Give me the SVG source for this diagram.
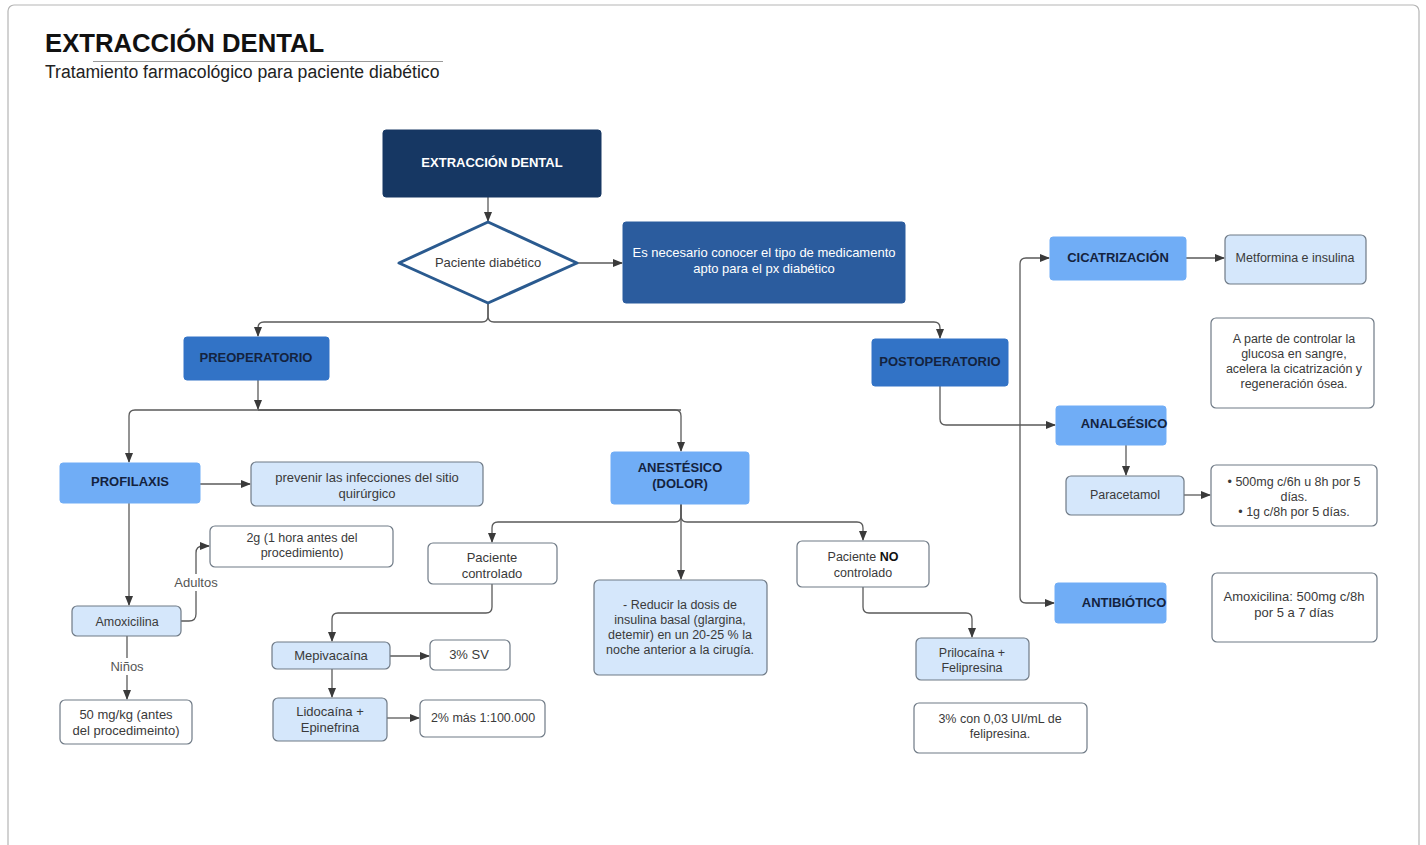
<svg xmlns="http://www.w3.org/2000/svg" width="1426" height="845" viewBox="0 0 1426 845">
<defs>
<marker id="ah" markerWidth="10" markerHeight="8" refX="9" refY="4" orient="auto" markerUnits="userSpaceOnUse">
<path d="M0,0 L10,4 L0,8 Z" fill="#3a3a3a"/>
</marker>
<style>
text{font-family:"Liberation Sans",Arial,sans-serif;}
.c{fill:none;stroke:#5a5a5a;stroke-width:1.3;marker-end:url(#ah);}
.t{font-size:12.5px;fill:#3a3a3a;text-anchor:middle;}
.m{font-size:13px;}
.tw{font-size:13px;fill:#ffffff;text-anchor:middle;}
.b{font-size:13px;font-weight:bold;fill:#14233f;text-anchor:middle;}
.dark{fill:#163763;stroke:#163763;}
.mid{fill:#2b5c9e;stroke:#2b5c9e;}
.pre{fill:#3273c6;stroke:#3273c6;}
.lb{fill:#70adf6;stroke:#70adf6;}
.pale{fill:#d5e7fb;stroke:#6f7a86;stroke-width:1.2;}
.wh{fill:#ffffff;stroke:#6f7a86;stroke-width:1.2;}
.lbl{font-size:13px;fill:#555;text-anchor:middle;}
</style>
</defs>
<rect x="0" y="0" width="1426" height="845" fill="#ffffff"/>
<rect x="8" y="5" width="1411" height="860" rx="6" fill="#ffffff" stroke="#b5b5b5" stroke-width="1.2"/>
<text x="45" y="52" font-size="25.7" font-weight="bold" fill="#111">EXTRACCIÓN DENTAL</text>
<line x1="93" y1="61.5" x2="443" y2="61.5" stroke="#999" stroke-width="1"/>
<text x="45" y="78" font-size="17.6" fill="#222">Tratamiento farmacológico para paciente diabético</text>

<g id="connectors">
<path class="c" d="M488,197 V221"/>
<path class="c" d="M578,263 H622"/>
<path class="c" d="M488,303 V316 Q488,322 482,322 H264 Q258,322 258,328 V336"/>
<path class="c" d="M488,303 V316 Q488,322 494,322 H934 Q940,322 940,328 V338"/>
<path class="c" d="M258,380 V409"/>
<path class="c" d="M681,410 H135 Q129,410 129,416 V462"/>
<path class="c" d="M258,410 H675 Q681,410 681,416 V451"/>
<path class="c" d="M200,484 H250"/>
<path class="c" d="M129,503 V605"/>
<path class="c" d="M181,621 H189 Q196,621 196,614 V553 Q196,546 203,546 H209"/>
<path class="c" d="M127,636 V699"/>
<path class="c" d="M681,504 V516 Q681,522 675,522 H498 Q492,522 492,528 V542"/>
<path class="c" d="M681,504 V516 Q681,522 687,522 H857 Q863,522 863,528 V540"/>
<path class="c" d="M681,504 V579"/>
<path class="c" d="M492,584 V607 Q492,613 486,613 H338 Q332,613 332,619 V641"/>
<path class="c" d="M390,656 H429"/>
<path class="c" d="M332,669 V697"/>
<path class="c" d="M387,718 H419"/>
<path class="c" d="M863,587 V607 Q863,613 869,613 H966 Q972,613 972,619 V637"/>
<path class="c" d="M940,386 V419 Q940,425 946,425 H1055"/>
<path class="c" d="M1020,433 V264 Q1020,258 1026,258 H1049"/>
<path class="c" d="M1020,433 V597 Q1020,603 1026,603 H1054"/>
<path class="c" d="M1186,258 H1224"/>
<path class="c" d="M1126,445 V475"/>
<path class="c" d="M1184,495 H1210"/>
<rect x="171" y="574" width="50" height="17" fill="#ffffff"/>
<text class="lbl" x="196" y="587">Adultos</text>
<rect x="106" y="658" width="42" height="17" fill="#ffffff"/>
<text class="lbl" x="127" y="671">Niños</text>
</g>

<g id="n-extraccion"><rect class="dark" x="383" y="130" width="218" height="67" rx="3"/><text class="tw" x="492" y="167" font-weight="bold">EXTRACCIÓN DENTAL</text></g>
<g id="n-diabetico"><polygon points="488,222 577,263 488,303 399,263" fill="#ffffff" stroke="#2a5a8f" stroke-width="3" stroke-linejoin="round"/><text class="t m" x="488" y="267">Paciente diabético</text></g>
<g id="n-necesario"><rect class="mid" x="623" y="222" width="282" height="81" rx="3"/><text class="tw" x="764" y="257">Es necesario conocer el tipo de medicamento</text><text class="tw" x="764" y="273">apto para el px diabético</text></g>
<g id="n-preop"><rect class="pre" x="184" y="337" width="145" height="43" rx="3"/><text class="b" x="256" y="362">PREOPERATORIO</text></g>
<g id="n-postop"><rect class="pre" x="872" y="339" width="136" height="47" rx="3"/><text class="b" x="940" y="366">POSTOPERATORIO</text></g>
<g id="n-profilaxis"><rect class="lb" x="60" y="463" width="140" height="40" rx="3"/><text class="b" x="130" y="486">PROFILAXIS</text></g>
<g id="n-prevenir"><rect class="pale" x="251" y="462" width="232" height="44" rx="5"/><text class="t m" x="367" y="482">prevenir las infecciones del sitio</text><text class="t m" x="367" y="498">quirúrgico</text></g>
<g id="n-anestesico"><rect class="lb" x="611" y="452" width="138" height="52" rx="3"/><text class="b" x="680" y="472">ANESTÉSICO</text><text class="b" x="680" y="488">(DOLOR)</text></g>
<g id="n-2g"><rect class="wh" x="210" y="526" width="183" height="41" rx="5"/><text class="t" x="302" y="542">2g (1 hora antes del</text><text class="t" x="302" y="557">procedimiento)</text></g>
<g id="n-amoxicilina"><rect class="pale" x="72" y="606" width="109" height="30" rx="5"/><text class="t" x="127" y="626" font-size="14">Amoxicilina</text></g>
<g id="n-50mg"><rect class="wh" x="60" y="700" width="132" height="44" rx="5"/><text class="t m" x="126" y="719">50 mg/kg (antes</text><text class="t m" x="126" y="735">del procedimeinto)</text></g>
<g id="n-controlado"><rect class="wh" x="428" y="543" width="129" height="41" rx="5"/><text class="t m" x="492" y="562">Paciente</text><text class="t m" x="492" y="578">controlado</text></g>
<g id="n-mepivacaina"><rect class="pale" x="272" y="642" width="118" height="27" rx="5"/><text class="t m" x="331" y="660">Mepivacaína</text></g>
<g id="n-3sv"><rect class="wh" x="430" y="640" width="80" height="30" rx="5"/><text class="t m" x="469" y="659">3% SV</text></g>
<g id="n-lidocaina"><rect class="pale" x="273" y="698" width="114" height="43" rx="5"/><text class="t m" x="330" y="716">Lidocaína +</text><text class="t m" x="330" y="732">Epinefrina</text></g>
<g id="n-2mas"><rect class="wh" x="420" y="700" width="125" height="37" rx="5"/><text class="t" x="483" y="722">2% más 1:100.000</text></g>
<g id="n-reducir"><rect class="pale" x="594" y="580" width="173" height="95" rx="5"/><text class="t" x="680" y="609">- Reducir la dosis de</text><text class="t" x="680" y="624">insulina basal (glargina,</text><text class="t" x="680" y="639">detemir) en un 20-25 % la</text><text class="t" x="680" y="654">noche anterior a la cirugía.</text></g>
<g id="n-nocontrolado"><rect class="wh" x="797" y="541" width="132" height="46" rx="5"/><text class="t" x="863" y="561">Paciente <tspan font-weight="bold" fill="#111">NO</tspan></text><text class="t" x="863" y="577">controlado</text></g>
<g id="n-prilocaina"><rect class="pale" x="916" y="638" width="113" height="42" rx="5"/><text class="t" x="972" y="657">Prilocaína +</text><text class="t" x="972" y="672">Felipresina</text></g>
<g id="n-3con"><rect class="wh" x="914" y="703" width="173" height="50" rx="5"/><text class="t" x="1000" y="723">3% con 0,03 UI/mL de</text><text class="t" x="1000" y="738">felipresina.</text></g>
<g id="n-cicatrizacion"><rect class="lb" x="1050" y="237" width="136" height="43" rx="3"/><text class="b" x="1118" y="262">CICATRIZACIÓN</text></g>
<g id="n-metformina"><rect class="pale" x="1225" y="235" width="141" height="49" rx="5"/><text class="t" x="1295" y="262">Metformina e insulina</text></g>
<g id="n-aparte"><rect class="wh" x="1211" y="318" width="163" height="90" rx="5"/><text class="t" x="1294" y="343">A parte de controlar la</text><text class="t" x="1294" y="358">glucosa en sangre,</text><text class="t" x="1294" y="373">acelera la cicatrización y</text><text class="t" x="1294" y="388">regeneración ósea.</text></g>
<g id="n-analgesico"><rect class="lb" x="1056" y="406" width="110" height="39" rx="3"/><text class="b" x="1124" y="428">ANALGÉSICO</text></g>
<g id="n-paracetamol"><rect class="pale" x="1066" y="476" width="118" height="39" rx="5"/><text class="t" x="1125" y="499">Paracetamol</text></g>
<g id="n-500mg"><rect class="wh" x="1211" y="465" width="166" height="61" rx="5"/><text class="t" x="1294" y="486">• 500mg c/6h u 8h por 5</text><text class="t" x="1294" y="501">días.</text><text class="t" x="1294" y="516">• 1g c/8h por 5 días.</text></g>
<g id="n-antibiotico"><rect class="lb" x="1055" y="583" width="111" height="40" rx="3"/><text class="b" x="1124" y="607">ANTIBIÓTICO</text></g>
<g id="n-amox500"><rect class="wh" x="1212" y="573" width="165" height="69" rx="5"/><text class="t m" x="1294" y="601">Amoxicilina: 500mg c/8h</text><text class="t m" x="1294" y="617">por 5 a 7 días</text></g>
</svg>
